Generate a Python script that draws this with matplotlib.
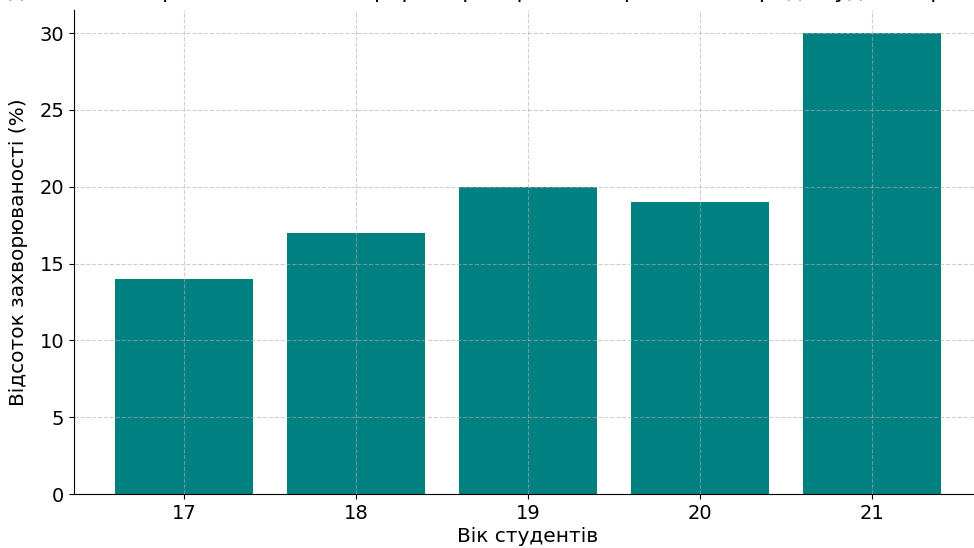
import matplotlib.pyplot as plt

ages = [17, 18, 19, 20, 21]
rates = [14, 17, 20, 19, 30]

fig = plt.figure(figsize=(9.74, 5.48), dpi=100)
ax = fig.add_axes([74 / 974, 54 / 548, 0.932, 484 / 548])

ax.bar(ages, rates, width=0.8, color="#008080", zorder=2)
ax.grid(True, linestyle="--", color="#b0b0b0", alpha=0.6, linewidth=0.8, zorder=3)
ax.set_axisbelow(False)

ax.spines["top"].set_visible(False)
ax.spines["right"].set_visible(False)

ax.set_xticks(ages)
ax.set_xlabel("Вік студентів", fontsize=14.5, labelpad=3)
ax.set_ylabel("Відсоток захворюваності (%)", fontsize=14.5, labelpad=8)
ax.set_title("Відсоток захворюваності на гострі респіраторні захворювання серед студентів різного віку",
             fontsize=16, pad=9)
ax.tick_params(labelsize=14)

fig.savefig("out.png", dpi=100)
